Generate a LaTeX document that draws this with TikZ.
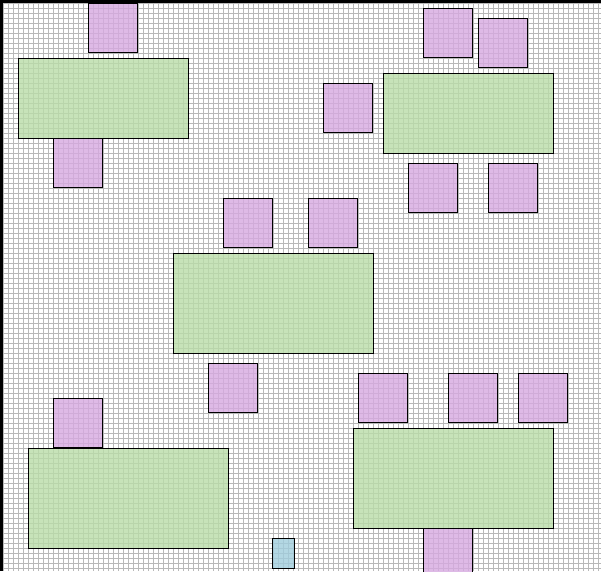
\documentclass[tikz,border=0pt]{standalone}
\begin{document}
\begin{tikzpicture}[x=1pt,y=-1pt,
  gridline/.style={draw=black!28, line width=0.9pt},
  box/.style={draw=black, line width=1pt, anchor=north west, inner sep=0pt, outer sep=0pt, fill opacity=0.8, draw opacity=1},
  greenbox/.style={box, fill=greenfill},
  pinkbox/.style={box, fill=pinkfill, minimum width=49pt, minimum height=49pt},
  bluebox/.style={box, fill=bluefill, minimum width=22pt, minimum height=30pt},
  borderbar/.style={fill=black, draw=none}]
\definecolor{greenfill}{HTML}{BADDA8}
\definecolor{pinkfill}{HTML}{D6A9E0}
\definecolor{bluefill}{HTML}{A1CDDD}
\useasboundingbox (0,0) rectangle (601,571);
\clip (0,0) rectangle (601,571);
\fill[white] (0,0) rectangle (601,571);
% grid
\foreach \k in {0,...,119} { \draw[gridline] (3.8+5*\k,0) -- (3.8+5*\k,571); }
\foreach \k in {0,...,113} { \draw[gridline] (0,3.8+5*\k) -- (601,3.8+5*\k); }
% green tables
\node[greenbox, minimum width=170pt, minimum height=80pt] (g1) at (18.3,58.3) {};
\node[greenbox, minimum width=170pt, minimum height=80pt] (g2) at (383.3,73.3) {};
\node[greenbox, minimum width=200pt, minimum height=100pt] (g3) at (173.3,253.3) {};
\node[greenbox, minimum width=200pt, minimum height=100pt] (g4) at (28.3,448.3) {};
\node[greenbox, minimum width=200pt, minimum height=100pt] (g5) at (353.3,428.3) {};
% pink squares
\node[pinkbox] (p1) at (88.3,3.3) {};
\node[pinkbox] (p2) at (53.3,138.3) {};
\node[pinkbox] (p3) at (423.3,8.3) {};
\node[pinkbox] (p4) at (478.3,18.3) {};
\node[pinkbox] (p5) at (323.3,83.3) {};
\node[pinkbox] (p6) at (408.3,163.3) {};
\node[pinkbox] (p7) at (488.3,163.3) {};
\node[pinkbox] (p8) at (223.3,198.3) {};
\node[pinkbox] (p9) at (308.3,198.3) {};
\node[pinkbox] (p10) at (208.3,363.3) {};
\node[pinkbox] (p11) at (358.3,373.3) {};
\node[pinkbox] (p12) at (448.3,373.3) {};
\node[pinkbox] (p13) at (518.3,373.3) {};
\node[pinkbox] (p14) at (53.3,398.3) {};
\node[pinkbox] (p15) at (423.3,528.3) {};
% blue
\node[bluebox] (b1) at (272.3,538.3) {};
% borders
\fill[borderbar] (0,0) rectangle (601,3.2);
\fill[borderbar] (0,0) rectangle (3.2,571);
\end{tikzpicture}
\end{document}
